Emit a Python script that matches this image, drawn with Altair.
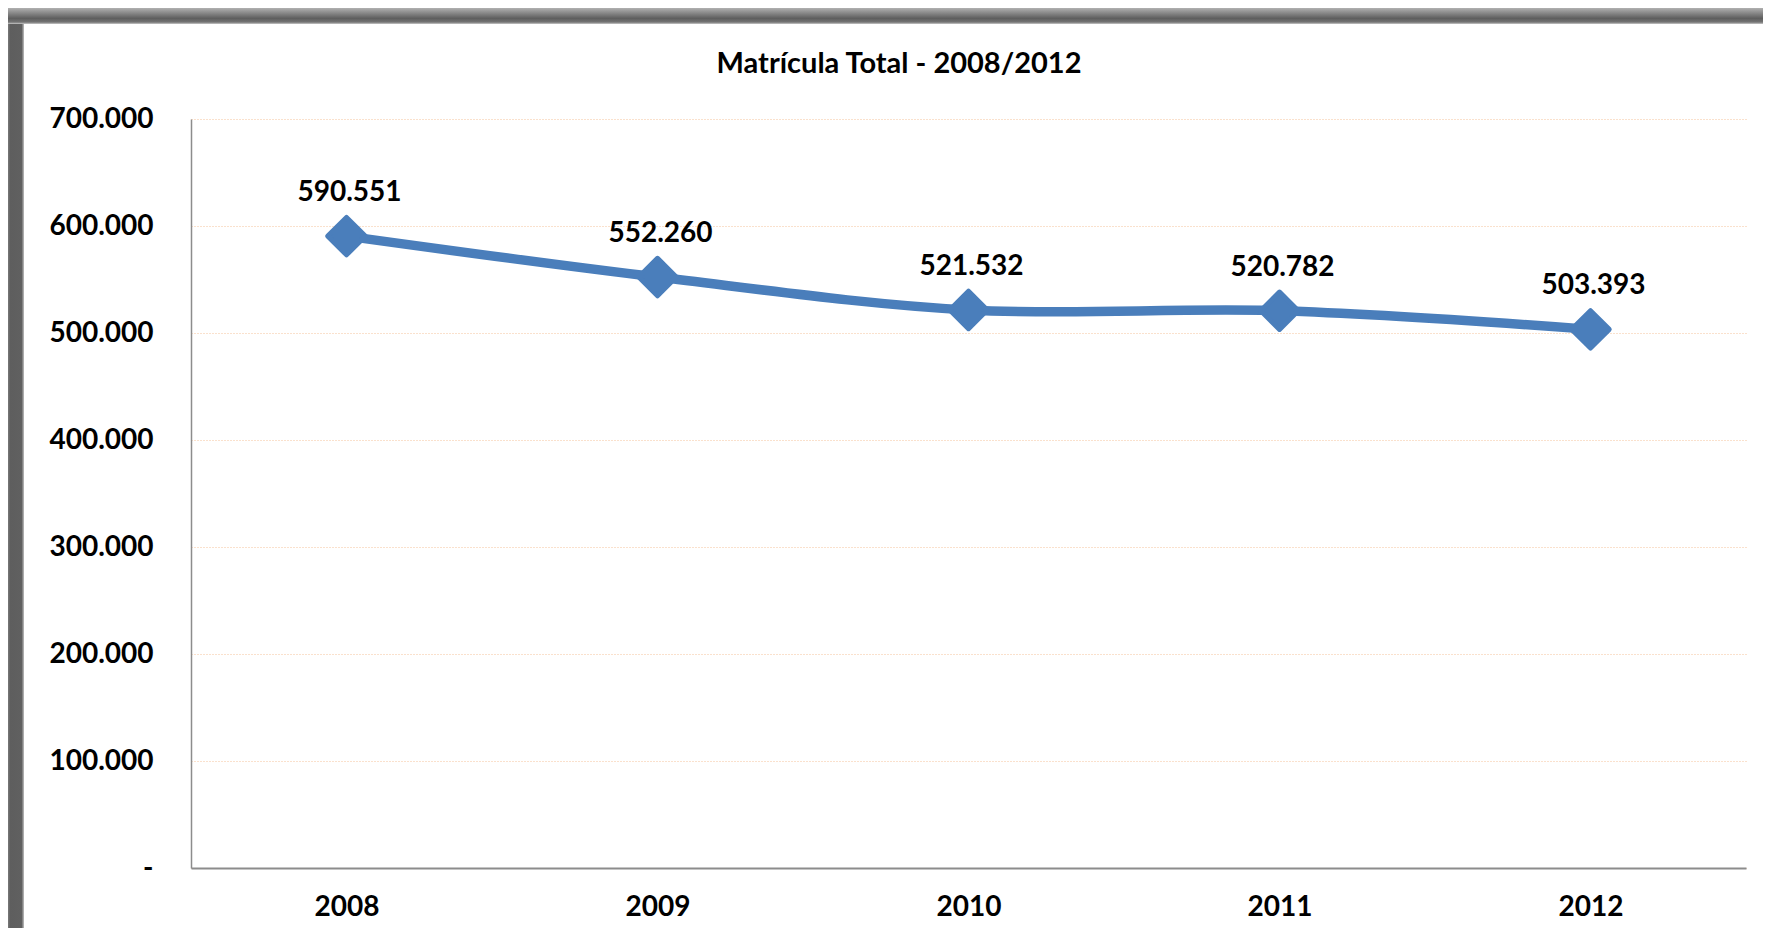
import altair as alt
import pandas as pd

# ---- data ----
years = ["2008", "2009", "2010", "2011", "2012"]
values = [590551, 552260, 521532, 520782, 503393]
y_ticks = [0, 100000, 200000, 300000, 400000, 500000, 600000, 700000]
title_text = "Matrícula Total - 2008/2012"

labels = [f"{v:,}".replace(",", ".") for v in values]
df = pd.DataFrame({"Ano": years, "Matricula": values, "Rotulo": labels})

FONT = "Lato"
BLUE = "#4a7ebb"
W, H = 1555, 749
PAD_L, PAD_T, PAD_R = 183, 111, 17
TOTAL_H = 920
PAD_B = TOTAL_H - PAD_T - H

base = alt.Chart(df).encode(
    x=alt.X(
        "Ano:O",
        scale=alt.Scale(type="point", padding=0.5),
        axis=alt.Axis(
            title=None, labelAngle=0, ticks=False, grid=False,
            domainColor="#8c8c8c", domainWidth=2,
            labelFont=FONT, labelFontSize=28, labelFontWeight="bold",
            labelColor="black", labelPadding=25,
        ),
    ),
    y=alt.Y(
        "Matricula:Q",
        scale=alt.Scale(domain=[0, 700000], nice=False, zero=True),
        axis=alt.Axis(
            title=None, values=y_ticks, ticks=False,
            labelExpr="datum.value == 0 ? '-' : replace(format(datum.value, ','), ',', '.')",
            grid=True, gridColor="#f5c29a", gridDash=[1, 2], gridWidth=1,
            domainColor="#8c8c8c", domainWidth=1.5,
            labelFont=FONT, labelFontSize=28, labelFontWeight="bold",
            labelColor="black", labelPadding=38,
        ),
    ),
)

line = base.mark_line(interpolate="cardinal", color=BLUE, strokeWidth=9.5)
points = base.mark_point(
    shape="diamond", filled=True, size=1400, color=BLUE,
    stroke=BLUE, strokeWidth=5, strokeJoin="round", opacity=1,
)
text = base.mark_text(
    dy=-35, dx=3, baseline="alphabetic", align="center",
    font=FONT, fontSize=28, fontWeight="bold", color="black",
).encode(text="Rotulo:N")

frame_df = pd.DataFrame({"k": [0], "titulo": [title_text]})
title_mark = alt.Chart(frame_df).mark_text(
    font=FONT, fontSize=29, fontWeight="bold", color="black",
    align="center", baseline="alphabetic",
).encode(text="titulo:N", x=alt.value(708), y=alt.value(-46))

left_band = alt.Chart(frame_df).mark_rect(
    color=alt.LinearGradient(
        gradient="linear", x1=0, x2=1, y1=0, y2=0,
        stops=[
            alt.GradientStop(offset=0, color="#7a7a7a"),
            alt.GradientStop(offset=0.15, color="#5e5e5e"),
            alt.GradientStop(offset=0.85, color="#606060"),
            alt.GradientStop(offset=1, color="#c0c0c0"),
        ],
    )
).encode(
    x=alt.value(-PAD_L), x2=alt.value(-PAD_L + 16),
    y=alt.value(-PAD_T), y2=alt.value(TOTAL_H - PAD_T),
)
top_band = alt.Chart(frame_df).mark_rect(
    color=alt.LinearGradient(
        gradient="linear", x1=0, x2=0, y1=0, y2=1,
        stops=[
            alt.GradientStop(offset=0, color="#b0b0b0"),
            alt.GradientStop(offset=0.65, color="#5e5e5e"),
            alt.GradientStop(offset=0.88, color="#747474"),
            alt.GradientStop(offset=1, color="#c8c8c8"),
        ],
    )
).encode(
    x=alt.value(-PAD_L), x2=alt.value(W + PAD_R),
    y=alt.value(-PAD_T), y2=alt.value(-PAD_T + 16),
)

chart = (
    alt.layer(line, points, text, title_mark, left_band, top_band)
    .properties(
        width=W, height=H,
        autosize=alt.AutoSizeParams(type="none"),
        padding={"left": PAD_L, "top": PAD_T, "right": PAD_R, "bottom": PAD_B},
        background="white",
    )
    .configure_view(strokeWidth=0)
)

chart.save("out.html", embed_options={"renderer": "svg", "actions": False})
